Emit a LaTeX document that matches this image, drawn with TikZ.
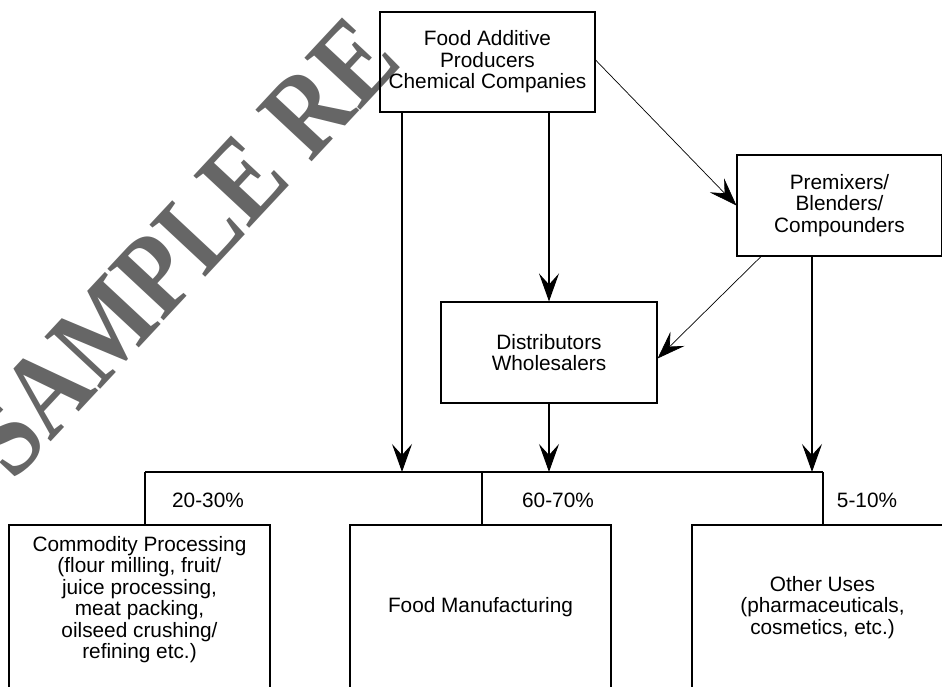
\documentclass[tikz,border=0pt]{standalone}
\usepackage{fontspec}
\setmainfont{Liberation Sans}
\newfontfamily\markfont{Liberation Serif}
\usetikzlibrary{arrows.meta}

\begin{document}
\begin{tikzpicture}[x=1pt, y=-1pt,
    box/.style={draw, line width=1.1pt, align=center, inner sep=0pt,
        font=\fontsize{20.8}{21.4}\selectfont},
    link/.style={line width=1.1pt},
    arr/.style={link, -{Stealth[length=28pt, width=20pt, inset=11pt]}},
    thinarr/.style={arr, line width=0.7pt},
    pct/.style={inner sep=0pt, font=\fontsize{20.8}{21.4}\selectfont}]
    \useasboundingbox (0,0) rectangle (942,687);
    \clip (0,0) rectangle (942,687);

    % watermark
    \node[anchor=base west, rotate=47, inner sep=0pt, text=black!60,
        font=\markfont\bfseries\fontsize{104}{104}\selectfont] (mark) at (13,483)
        {\scalebox{0.95}[1.12]{SAMPLE RE}};

    % boxes
    \node[box, minimum width=215, minimum height=100] (prod) at (487.5,62)
        {Food Additive\\Producers\\Chemical Companies};
    \node[box, minimum width=205, minimum height=101] (prem) at (839.5,205.5)
        {Premixers/\\Blenders/\\Compounders};
    \node[box, minimum width=216, minimum height=101] (dist) at (549,352.5)
        {Distributors\\Wholesalers};
    \node[box, minimum width=261, minimum height=165, text depth=20pt] (comm) at (139.5,607.5)
        {Commodity Processing\\(flour milling, fruit/\\juice processing,\\meat packing,\\oilseed crushing/\\refining etc.)};
    \node[box, minimum width=261, minimum height=165] (manu) at (480.5,607.5)
        {Food Manufacturing};
    \node[box, minimum width=261, minimum height=165] (other) at (822.5,607.5)
        {Other Uses\\(pharmaceuticals,\\cosmetics, etc.)};

    % shares
    \node[pct] (pa) at (208,500) {20-30\%};
    \node[pct] (pb) at (558,500) {60-70\%};
    \node[pct] (pc) at (867,500) {5-10\%};

    % bus
    \coordinate (busL) at (145,472);
    \coordinate (busM) at (482,472);
    \coordinate (busR) at (823,472);
    \coordinate (inA) at (402,472);
    \coordinate (inC) at (812,472);
    \draw[link] (busL) -- (busR);
    \draw[link] (busL) -- (busL |- comm.north);
    \draw[link] (busM) -- (busM |- manu.north);
    \draw[link] (busR) -- (busR |- other.north);

    % flows
    \draw[arr] (prod.south -| inA) -- (inA);
    \draw[arr] (dist.north |- prod.south) -- (dist.north);
    \draw[arr] (dist.south) -- (dist.south |- busL);
    \draw[arr] (prem.south -| inC) -- (inC);
    \draw[thinarr] ([yshift=2pt]prod.east) -- (prem.west);
    \draw[thinarr] ([xshift=-78.5pt]prem.south) -- ([yshift=-6pt]dist.east);
\end{tikzpicture}
\end{document}
